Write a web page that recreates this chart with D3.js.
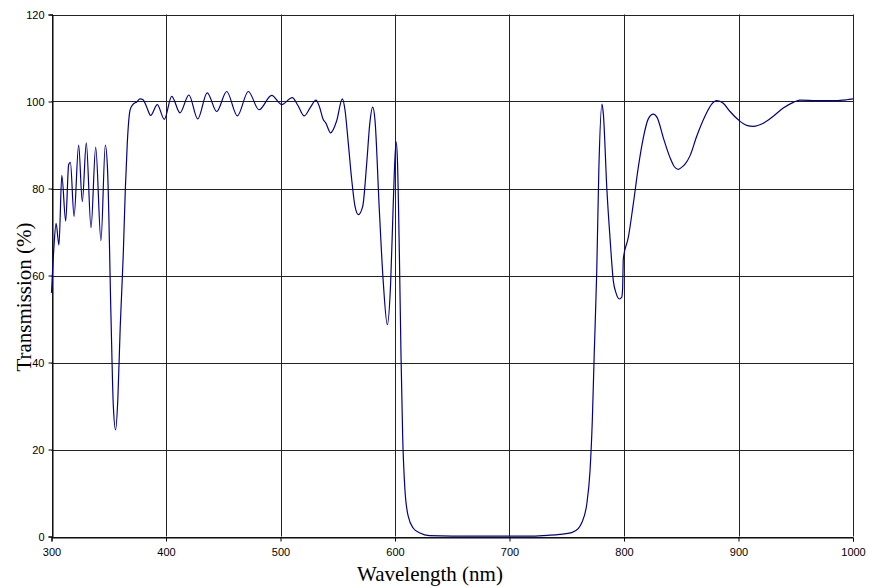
<!DOCTYPE html>
<html>
<head>
<meta charset="utf-8">
<script src="https://cdn.jsdelivr.net/npm/d3@7"></script>
<style>
  body { margin: 0; background: #fff; }
  svg { display: block; }
  .tick text { font-family: "Liberation Sans", Arial, sans-serif; font-size: 11px; fill: #000; }
  .axis-title { font-family: "Liberation Serif", "Times New Roman", serif; font-size: 21px; fill: #000; }
</style>
</head>
<body>
<div id="chart"></div>
<script>
// Transmission spectrum of the filter
const wavelength = [
  300, 302, 304, 306.5, 309, 312.4, 315, 316.5, 319.7, 323.7, 326.9, 330.4, 334.5, 338.6, 343.2, 347, 349,
  352, 354, 356, 358, 360, 362.7, 364.5, 366.2, 368.6, 371, 374.4, 377.3, 380, 383,
  386.6, 392.4, 398.5, 405, 412.2, 420, 427.7, 436, 444.3, 453, 462.3, 471.9, 481.2, 492.3, 501, 510.3,
  515, 520.8, 526, 531, 534, 537.4, 539.5, 543.8, 549, 554, 556.3, 559, 562.2, 565, 568, 571.8, 575.3,
  578, 580.5, 582.5, 586.3, 589.8, 593.3, 596.2, 598.5, 600.9, 602, 603.8, 605.2, 606.7, 608.7, 611.6,
  616, 621.8, 630, 650, 680, 700, 720, 735, 744, 754.3, 760, 763, 767.4, 770.3, 772.3, 774, 776.2, 778,
  780.8, 782, 785, 787.8, 790.7, 793, 795.9, 798, 798.8, 799.4, 803.8, 808.1, 812.5, 816.9, 821.2, 825.6,
  829, 834.3, 840.2, 844, 847.4, 850, 853.3, 857.6, 863.5, 870.7, 876.6, 881, 886.7, 892.6, 899.8, 907.2,
  912.9, 921.7, 930.4, 939.1, 947.9, 953.7, 968.3, 985, 994.5, 1000
];
const transmission = [
  56, 66, 72, 67, 83, 72.5, 85.5, 86, 73.6, 90, 77, 90.5, 71, 89.5, 68, 90, 84,
  50, 30, 24.5, 32, 48, 65, 80, 90.5, 98, 99.3, 99.9, 100.6, 100.4, 98.8,
  96.8, 99.3, 95.9, 101.2, 97.4, 101.5, 96, 102, 97.7, 102.3, 96.7, 102.3, 98.1, 101.4, 99.3, 100.9,
  99.2, 96.7, 98.6, 100.3, 98.8, 95.8, 95.1, 92.8, 95.5, 100.6, 98.1, 91, 82, 76, 74, 75.9, 85.8,
  95, 98.7, 95.8, 75.1, 58.3, 48.7, 58.3, 76.7, 90.8, 87.4, 65.2, 42.2, 23, 10.7, 4.6,
  1.9, 0.8, 0.2, 0.1, 0.1, 0.1, 0.1, 0.3, 0.5, 0.9, 1.8, 3.1, 7.3, 15, 26.5, 42, 61, 84,
  99.4, 97, 80, 68.6, 58.7, 56, 54.6, 55, 57, 63.8, 68.8, 76.4, 84.9, 91.7, 96, 97.1,
  96.3, 91.7, 87.1, 85, 84.4, 84.8, 85.6, 87.5, 92, 96.6, 99.4, 100.2, 99.6, 97.7, 95.8, 94.5,
  94.3, 95, 96.6, 98.5, 99.8, 100.3, 100.2, 100.2, 100.4, 100.6
];
const xTicks = [300, 400, 500, 600, 700, 800, 900, 1000];
const yTicks = [0, 20, 40, 60, 80, 100, 120];

const W = 869, H = 586;
const margin = { left: 51.5, right: 16, top: 14.5, bottom: 49.5 };

const svg = d3.select('#chart').append('svg')
  .attr('width', W).attr('height', H);

const x = d3.scaleLinear().domain([300, 1000]).range([margin.left, W - margin.right]);
const y = d3.scaleLinear().domain([0, 120]).range([H - margin.bottom, margin.top]);

// grid
svg.append('g')
  .selectAll('line.v')
  .data(xTicks)
  .join('line')
  .attr('x1', d => Math.round(x(d)) + 0.5).attr('x2', d => Math.round(x(d)) + 0.5)
  .attr('y1', y(120)).attr('y2', y(0))
  .attr('stroke', '#222').attr('stroke-width', 1);

svg.append('g')
  .selectAll('line.h')
  .data(yTicks)
  .join('line')
  .attr('x1', x(300)).attr('x2', x(1000))
  .attr('y1', d => Math.round(y(d)) + 0.5).attr('y2', d => Math.round(y(d)) + 0.5)
  .attr('stroke', '#222').attr('stroke-width', 1);

// axes
const xAxis = svg.append('g')
  .attr('transform', `translate(0,${Math.round(y(0)) + 0.5})`)
  .call(d3.axisBottom(x).tickValues(xTicks).tickSize(4).tickPadding(7).tickFormat(d3.format('d')));
const yAxis = svg.append('g')
  .attr('transform', `translate(${Math.round(x(300)) + 0.5},0)`)
  .call(d3.axisLeft(y).tickValues(yTicks).tickSize(4).tickPadding(4));
[xAxis, yAxis].forEach(a => {
  a.select('.domain').attr('stroke', '#000');
  a.selectAll('.tick line').attr('stroke', '#000');
});

// curve
const pts = wavelength.map((w, i) => [w, transmission[i]]);
const line = d3.line()
  .x(d => x(d[0]))
  .y(d => y(d[1]))
  .curve(d3.curveMonotoneX);

svg.append('path')
  .datum(pts)
  .attr('d', line)
  .attr('fill', 'none')
  .attr('stroke', '#00008b')
  .attr('stroke-width', 1.2);

// titles
svg.append('text')
  .attr('class', 'axis-title')
  .attr('x', 430).attr('y', 581)
  .attr('text-anchor', 'middle')
  .text('Wavelength (nm)');

svg.append('text')
  .attr('class', 'axis-title')
  .attr('transform', 'translate(31,297) rotate(-90)')
  .attr('text-anchor', 'middle')
  .text('Transmission (%)');
</script>
</body>
</html>
